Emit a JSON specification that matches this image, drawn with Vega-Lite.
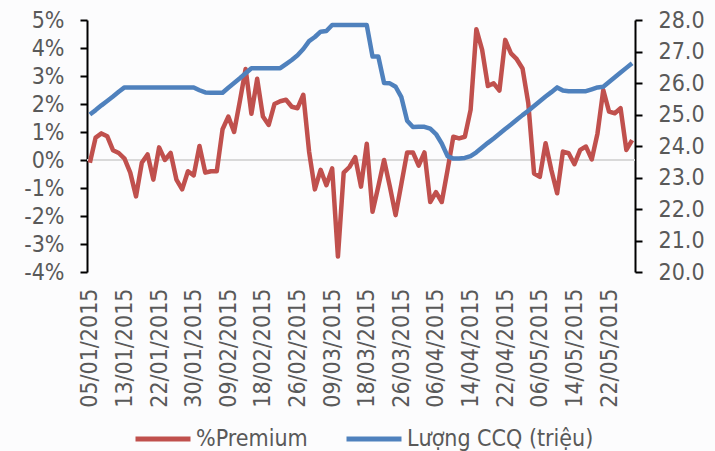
{
  "$schema": "https://vega.github.io/schema/vega-lite/v6.json",
  "width": 548,
  "height": 252,
  "autosize": {"type": "none"},
  "padding": {"left": 87, "top": 20, "right": 80, "bottom": 179},
  "background": "#fcfcfd",
  "config": {
    "view": {"stroke": null},
    "font": "DejaVu Sans Condensed",
    "axis": {"labelFont": "DejaVu Sans Condensed", "labelColor": "#595959", "labelFontSize": 23, "grid": false, "labelOverlap": false},
    "legend": {"labelFont": "DejaVu Sans Condensed"}
  },
  "data": {"values": [
    {"d": "05/01/2015", "p": -0.1, "q": 25.0},
    {"d": "06/01/2015", "p": 0.8, "q": 25.14},
    {"d": "07/01/2015", "p": 0.95, "q": 25.29},
    {"d": "08/01/2015", "p": 0.85, "q": 25.43},
    {"d": "09/01/2015", "p": 0.35, "q": 25.57},
    {"d": "12/01/2015", "p": 0.25, "q": 25.72},
    {"d": "13/01/2015", "p": 0.05, "q": 25.86},
    {"d": "14/01/2015", "p": -0.45, "q": 25.86},
    {"d": "15/01/2015", "p": -1.3, "q": 25.86},
    {"d": "16/01/2015", "p": -0.1, "q": 25.86},
    {"d": "20/01/2015", "p": 0.2, "q": 25.86},
    {"d": "21/01/2015", "p": -0.7, "q": 25.86},
    {"d": "22/01/2015", "p": 0.45, "q": 25.86},
    {"d": "23/01/2015", "p": 0.0, "q": 25.86},
    {"d": "26/01/2015", "p": 0.25, "q": 25.86},
    {"d": "27/01/2015", "p": -0.7, "q": 25.86},
    {"d": "28/01/2015", "p": -1.05, "q": 25.86},
    {"d": "29/01/2015", "p": -0.4, "q": 25.86},
    {"d": "30/01/2015", "p": -0.55, "q": 25.86},
    {"d": "02/02/2015", "p": 0.5, "q": 25.77},
    {"d": "03/02/2015", "p": -0.45, "q": 25.7},
    {"d": "04/02/2015", "p": -0.4, "q": 25.69},
    {"d": "05/02/2015", "p": -0.4, "q": 25.69},
    {"d": "06/02/2015", "p": 1.1, "q": 25.69},
    {"d": "09/02/2015", "p": 1.55, "q": 25.85},
    {"d": "10/02/2015", "p": 1.0, "q": 26.0},
    {"d": "11/02/2015", "p": 2.1, "q": 26.15},
    {"d": "12/02/2015", "p": 3.25, "q": 26.31},
    {"d": "13/02/2015", "p": 1.65, "q": 26.47},
    {"d": "17/02/2015", "p": 2.9, "q": 26.47},
    {"d": "18/02/2015", "p": 1.55, "q": 26.47},
    {"d": "19/02/2015", "p": 1.25, "q": 26.47},
    {"d": "20/02/2015", "p": 2.0, "q": 26.47},
    {"d": "23/02/2015", "p": 2.1, "q": 26.47},
    {"d": "24/02/2015", "p": 2.15, "q": 26.6},
    {"d": "25/02/2015", "p": 1.9, "q": 26.73},
    {"d": "26/02/2015", "p": 1.85, "q": 26.88},
    {"d": "27/02/2015", "p": 2.33, "q": 27.08},
    {"d": "02/03/2015", "p": 0.3, "q": 27.33},
    {"d": "03/03/2015", "p": -1.05, "q": 27.46},
    {"d": "04/03/2015", "p": -0.35, "q": 27.63},
    {"d": "05/03/2015", "p": -0.9, "q": 27.65},
    {"d": "09/03/2015", "p": -0.3, "q": 27.84},
    {"d": "10/03/2015", "p": -3.45, "q": 27.84},
    {"d": "11/03/2015", "p": -0.45, "q": 27.84},
    {"d": "12/03/2015", "p": -0.25, "q": 27.84},
    {"d": "13/03/2015", "p": 0.1, "q": 27.84},
    {"d": "16/03/2015", "p": -0.95, "q": 27.84},
    {"d": "18/03/2015", "p": 0.58, "q": 27.84},
    {"d": "19/03/2015", "p": -1.85, "q": 26.84},
    {"d": "20/03/2015", "p": -0.95, "q": 26.84},
    {"d": "23/03/2015", "p": 0.0, "q": 26.0},
    {"d": "24/03/2015", "p": -0.95, "q": 25.99},
    {"d": "25/03/2015", "p": -1.97, "q": 25.88},
    {"d": "26/03/2015", "p": -0.85, "q": 25.55},
    {"d": "27/03/2015", "p": 0.27, "q": 24.8},
    {"d": "30/03/2015", "p": 0.27, "q": 24.6},
    {"d": "31/03/2015", "p": -0.2, "q": 24.61},
    {"d": "01/04/2015", "p": 0.27, "q": 24.61},
    {"d": "02/04/2015", "p": -1.5, "q": 24.55},
    {"d": "06/04/2015", "p": -1.15, "q": 24.38},
    {"d": "07/04/2015", "p": -1.5, "q": 24.08},
    {"d": "08/04/2015", "p": -0.36, "q": 23.68},
    {"d": "09/04/2015", "p": 0.83, "q": 23.6},
    {"d": "10/04/2015", "p": 0.77, "q": 23.6},
    {"d": "13/04/2015", "p": 0.83, "q": 23.62},
    {"d": "14/04/2015", "p": 1.79, "q": 23.68},
    {"d": "15/04/2015", "p": 4.67, "q": 23.8},
    {"d": "16/04/2015", "p": 3.93, "q": 23.95},
    {"d": "17/04/2015", "p": 2.64, "q": 24.1},
    {"d": "20/04/2015", "p": 2.74, "q": 24.24},
    {"d": "21/04/2015", "p": 2.48, "q": 24.39},
    {"d": "22/04/2015", "p": 4.29, "q": 24.54},
    {"d": "23/04/2015", "p": 3.81, "q": 24.68},
    {"d": "24/04/2015", "p": 3.6, "q": 24.83},
    {"d": "27/04/2015", "p": 3.27, "q": 24.98},
    {"d": "04/05/2015", "p": 2.03, "q": 25.12},
    {"d": "05/05/2015", "p": -0.48, "q": 25.27},
    {"d": "06/05/2015", "p": -0.6, "q": 25.42},
    {"d": "07/05/2015", "p": 0.6, "q": 25.57},
    {"d": "08/05/2015", "p": -0.36, "q": 25.71},
    {"d": "11/05/2015", "p": -1.19, "q": 25.86},
    {"d": "12/05/2015", "p": 0.3, "q": 25.76},
    {"d": "13/05/2015", "p": 0.24, "q": 25.74},
    {"d": "14/05/2015", "p": -0.15, "q": 25.74},
    {"d": "15/05/2015", "p": 0.36, "q": 25.74},
    {"d": "18/05/2015", "p": 0.48, "q": 25.74},
    {"d": "19/05/2015", "p": 0.02, "q": 25.8},
    {"d": "20/05/2015", "p": 0.95, "q": 25.86},
    {"d": "21/05/2015", "p": 2.5, "q": 25.88},
    {"d": "22/05/2015", "p": 1.73, "q": 26.03},
    {"d": "26/05/2015", "p": 1.67, "q": 26.18},
    {"d": "27/05/2015", "p": 1.85, "q": 26.33},
    {"d": "28/05/2015", "p": 0.36, "q": 26.48},
    {"d": "29/05/2015", "p": 0.71, "q": 26.63}
  ]},
  "encoding": {
    "x": {
      "field": "d", "type": "ordinal", "sort": null,
      "scale": {"type": "point", "padding": 0.5},
      "axis": {
        "title": null, "domain": false, "ticks": false, "labelAngle": -90,
        "labelAlign": "right", "labelBaseline": "middle", "labelPadding": 16, "labelOverlap": false,
        "values": ["05/01/2015","13/01/2015","22/01/2015","30/01/2015","09/02/2015","18/02/2015","26/02/2015","09/03/2015","18/03/2015","26/03/2015","06/04/2015","14/04/2015","22/04/2015","06/05/2015","14/05/2015","22/05/2015"]
      }
    }
  },
  "layer": [
    {
      "layer": [
        {
          "mark": {"type": "rule", "color": "#d9d9d9", "strokeWidth": 1.5},
          "encoding": {
            "y": {
              "datum": 0, "type": "quantitative",
              "scale": {"domain": [-4, 5], "nice": false, "zero": false},
              "axis": {
                "title": null, "orient": "left", "values": [-4,-3,-2,-1,0,1,2,3,4,5],
                "labelOverlap": false, "labelBound": false, "labelFlush": false,
                "labelExpr": "datum.value + '%'", "domainColor": "#000000", "domainWidth": 2,
                "tickColor": "#000000", "tickWidth": 2, "tickSize": 7, "labelPadding": 16
              }
            },
            "x": {"value": 0}, "x2": {"value": 548}
          }
        },
        {
          "mark": {"type": "line", "strokeWidth": 4.5, "strokeJoin": "round"},
          "encoding": {
            "y": {
              "field": "p", "type": "quantitative",
              "scale": {"domain": [-4, 5], "nice": false, "zero": false},
              "axis": {
                "title": null, "orient": "left", "values": [-4,-3,-2,-1,0,1,2,3,4,5],
                "labelOverlap": false, "labelBound": false, "labelFlush": false,
                "labelExpr": "datum.value + '%'", "domainColor": "#000000", "domainWidth": 2,
                "tickColor": "#000000", "tickWidth": 2, "tickSize": 7, "labelPadding": 16
              }
            },
            "color": {
              "datum": "%Premium", "type": "nominal",
              "scale": {"domain": ["%Premium", "Lượng CCQ (triệu)"], "range": ["#C0504D", "#4F81BD"]},
              "legend": {
                "title": null, "orient": "none", "direction": "horizontal",
                "legendX": 46, "legendY": 389,
                "symbolType": "stroke", "symbolSize": 3025, "symbolStrokeWidth": 5,
                "labelFontSize": 23, "labelColor": "#595959", "labelLimit": 400,
                "labelOffset": 3, "columnPadding": 28
              }
            }
          }
        }
      ]
    },
    {
      "mark": {"type": "line", "strokeWidth": 4.5, "strokeJoin": "round"},
      "encoding": {
        "y": {
          "field": "q", "type": "quantitative",
          "scale": {"domain": [20, 28], "nice": false, "zero": false},
          "axis": {
            "title": null, "orient": "right", "values": [20,21,22,23,24,25,26,27,28],
            "labelOverlap": false,
            "format": ".1f", "domainColor": "#000000", "domainWidth": 2,
            "tickColor": "#000000", "tickWidth": 2, "tickSize": 7, "labelPadding": 16
          }
        },
        "color": {"datum": "Lượng CCQ (triệu)", "type": "nominal"}
      }
    }
  ],
  "resolve": {"scale": {"y": "independent"}}
}
